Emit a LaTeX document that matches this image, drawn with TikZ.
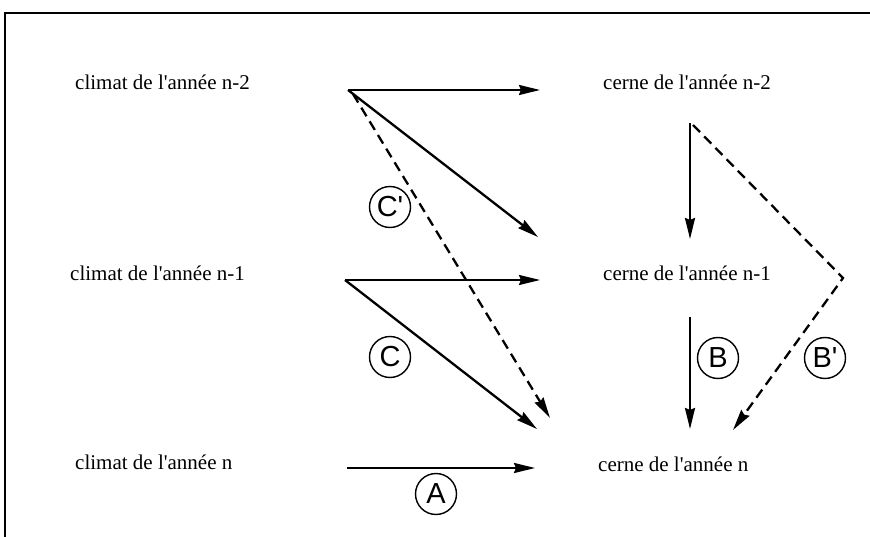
\documentclass[tikz,border=0pt]{standalone}
\usepackage{fontspec}
\setmainfont{Liberation Serif}
\newfontfamily\circfont{Liberation Sans}
\usetikzlibrary{arrows.meta}
\begin{document}
\begin{tikzpicture}[x=1pt,y=-1pt,
  lbl/.style={anchor=base west,inner sep=0pt,font=\fontsize{21}{24}\selectfont},
  circ/.style={draw,circle,line width=1.4pt,minimum size=41pt,inner sep=0pt,font=\circfont\fontsize{29}{30}\selectfont},
  arr/.style={line width=2.3pt,-{Stealth[length=21pt,width=10pt,inset=2pt]}},
  darr/.style={arr,dash pattern=on 10pt off 6pt}]
\useasboundingbox (0,0) rectangle (870,537);
\draw[line width=1.5pt] (870,13) -- (5,13) -- (5,537);
% labels
\node[lbl] (c2) at (75,90) {climat de l\textquotesingle année n-2};
\node[lbl] (c1) at (70,281) {climat de l\textquotesingle année n-1};
\node[lbl] (c0) at (75,469) {climat de l\textquotesingle année n};
\node[lbl] (r2) at (603,90) {cerne de l\textquotesingle année n-2};
\node[lbl] (r1) at (603,281) {cerne de l\textquotesingle année n-1};
\node[lbl] (r0) at (598,471) {cerne de l\textquotesingle année n};
% coordinates
\coordinate (s2) at (348,90);
\coordinate (e2h) at (540,90);
\coordinate (e2d) at (538,237);
\coordinate (s2d) at (353,94);
\coordinate (e2n) at (550,418);
\coordinate (s1) at (345,280);
\coordinate (e1h) at (540,280);
\coordinate (e1d) at (537,429);
\coordinate (s0) at (347,468);
\coordinate (e0h) at (535,468);
\coordinate (t2) at (690,123);
\coordinate (t2e) at (690,239);
\coordinate (t2d) at (693,125);
\coordinate (bend) at (843,278);
\coordinate (t0d) at (733,430);
\coordinate (t1) at (690,317);
\coordinate (t1e) at (690,429);
% arrows
\draw[arr] (s2) -- (e2h);
\draw[arr] (s2) -- (e2d);
\draw[darr] (s2d) -- (e2n);
\draw[arr] (s1) -- (e1h);
\draw[arr] (s1) -- (e1d);
\draw[arr] (s0) -- (e0h);
\draw[arr] (t2) -- (t2e);
\draw[darr] (t2d) -- (bend) -- (t0d);
\draw[arr] (t1) -- (t1e);
% circled labels
\node[circ] (cp) at (390,207) {C\textquotesingle};
\node[circ] (cc) at (390,357) {C};
\node[circ] (aa) at (436,494) {A};
\node[circ] (bb) at (718,358) {B};
\node[circ] (bp) at (825,358) {B\textquotesingle};
\end{tikzpicture}
\end{document}
